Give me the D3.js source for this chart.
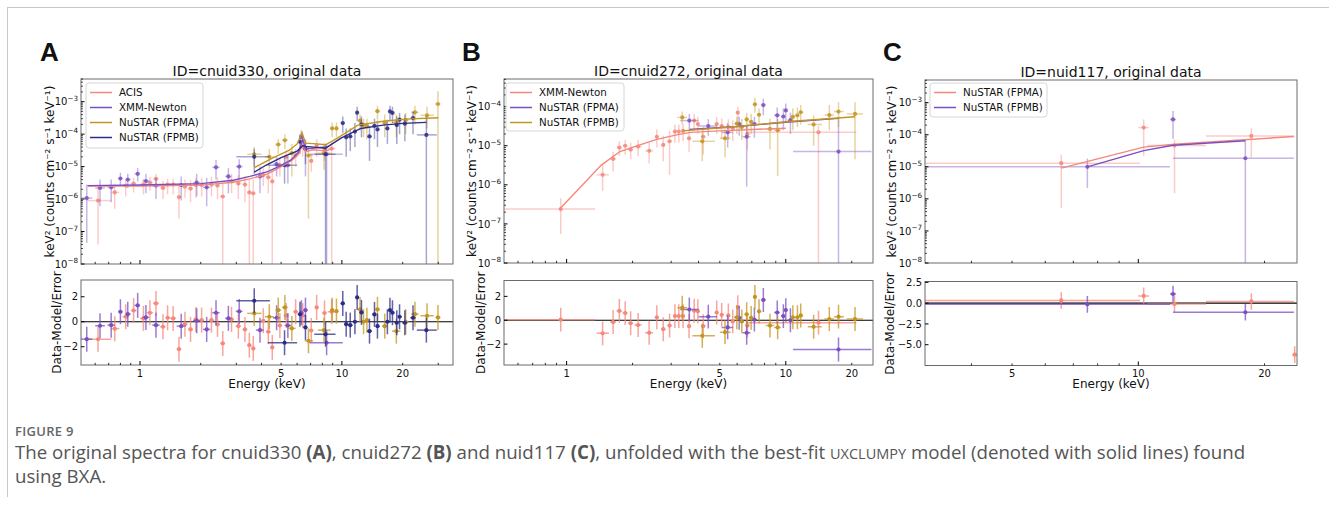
<!DOCTYPE html>
<html><head><meta charset="utf-8">
<script src="https://cdn.jsdelivr.net/npm/d3@7"></script>
<style>body{margin:0;background:#fff}svg{display:block}</style>
</head><body>
<svg id="c" width="1329" height="506"></svg>
<script>
// ---------- DATA ----------
// point rows: [E, Elo, Ehi, flux, fluxLo, fluxHi, residual]
const A_ACIS = [
 [0.62,0.55,0.72,9e-7,4e-8,2.2e-6,-1.4],[0.75,0.72,0.79,1.6e-6,5e-7,3e-6,-0.55],
 [0.85,0.82,0.88,2.6e-6,1.2e-6,4e-6,0.4],[0.93,0.9,0.96,3e-6,1.6e-6,4.5e-6,0.9],
 [1.04,1.0,1.08,2.8e-6,1.4e-6,4.2e-6,0.27],[1.12,1.08,1.16,3.2e-6,1.8e-6,4.8e-6,0.72],
 [1.2,1.16,1.24,4.2e-6,2.4e-6,6e-6,1.47],[1.3,1.26,1.34,2.2e-6,1e-6,3.6e-6,-0.4],
 [1.37,1.34,1.41,2.8e-6,1.4e-6,4.2e-6,0.32],[1.46,1.41,1.51,2.8e-6,1.4e-6,4.2e-6,0.27],
 [1.56,1.52,1.6,1.15e-6,2.5e-7,2.6e-6,-2.19],[1.67,1.62,1.72,2.4e-6,1.1e-6,4e-6,-0.19],
 [1.78,1.73,1.83,2.1e-6,8e-7,3.8e-6,-0.61],[1.89,1.84,1.95,2.7e-6,1.1e-6,4.4e-6,0.19],
 [2.02,1.96,2.08,2.7e-6,1.2e-6,4.5e-6,0.13],[2.26,2.19,2.33,2.8e-6,1.2e-6,4.8e-6,0.13],
 [2.42,2.35,2.49,2.6e-6,1e-6,4.6e-6,-0.21],[2.57,2.5,2.64,1.2e-6,1e-9,3e-6,-1.73],
 [2.84,2.76,2.92,3.5e-6,1.5e-6,6e-6,0.19],[3.07,2.98,3.16,3e-6,1e-6,5.5e-6,-0.35],
 [3.31,3.22,3.4,2.8e-6,8e-7,5e-6,-0.61],[3.48,3.4,3.56,1.6e-6,1e-9,4e-6,-1.87],
 [3.64,3.56,3.72,1.5e-6,1e-9,4e-6,-2.13],[4.08,3.98,4.18,5.5e-6,2.5e-6,9e-6,0.08],
 [4.32,4.2,4.44,4.7e-6,1.5e-6,8e-6,-0.8],[4.52,4.44,4.62,3.5e-6,1e-9,7e-6,-2.05],
 [4.93,4.8,5.06,1.1e-5,5e-6,1.8e-5,-0.3],[5.3,5.15,5.45,2e-5,9e-6,3.2e-5,0.5],
 [5.9,5.75,6.05,2.2e-5,1e-5,3.5e-5,0.8],[6.4,6.28,6.52,4.2e-5,2e-5,7e-5,0.5],
 [7.05,6.9,7.2,1.5e-5,7e-6,2.5e-5,-0.7],[7.5,7.35,7.65,4.5e-5,2e-5,7e-5,1.15],
 [8.2,8.0,8.4,3.5e-5,1.5e-5,5.5e-5,0.7],[8.9,8.5,9.3,3.6e-5,1e-9,6e-5,0.8]
];
const A_XMM = [
 [0.545,0.51,0.58,1.07e-6,4.5e-8,2.8e-6,-1.39],[0.634,0.6,0.67,2.2e-6,6e-7,4e-6,-0.32],
 [0.72,0.69,0.75,2.3e-6,8e-7,4e-6,-0.27],[0.8,0.78,0.82,4.3e-6,2.5e-6,6.5e-6,0.8],
 [0.87,0.85,0.9,4e-6,2.2e-6,6e-6,0.61],[0.974,0.94,1.0,6e-6,3.5e-6,9e-6,1.31],
 [1.07,1.03,1.11,3.6e-6,1.5e-6,6e-6,0.35],[1.2,1.15,1.25,2.6e-6,1e-6,4.5e-6,-0.27],
 [1.6,1.52,1.68,2.7e-6,9e-7,5e-6,-0.35],[1.91,1.83,1.99,3.2e-6,1.2e-6,6e-6,0.08],
 [2.14,2.05,2.23,2.3e-6,6e-7,4.5e-6,-0.61],[2.38,2.28,2.48,9.5e-6,4e-6,1.6e-5,0.72],
 [2.74,2.64,2.84,5e-6,1.5e-6,9e-6,0.27],[3.1,2.98,3.22,1e-5,4e-6,1.7e-5,0.83],
 [3.93,3.75,4.1,5e-6,1.5e-6,1e-5,-0.67],[4.75,4.55,4.95,1.2e-5,5e-6,2e-5,0.32],
 [5.4,5.2,5.6,1.1e-5,3e-6,2e-5,-0.3],[6.3,6.15,6.45,8.2e-5,4e-5,1.3e-4,0.72],
 [6.6,6.45,6.75,3.6e-5,5e-6,7e-5,0.93],[8.4,6.9,10.1,2.4e-5,1e-9,5e-5,-1.68]
];
const A_FPMA = [
 [3.68,3.4,4.0,2.4e-5,1e-5,4e-5,0.67],[4.37,4.15,4.6,2e-5,8e-6,3.5e-5,0.4],
 [4.84,4.68,5.0,4.8e-5,2.5e-5,7e-5,0.93],[5.22,5.05,5.4,6.5e-5,3.5e-5,1e-4,1.15],
 [5.65,5.4,5.9,2.6e-5,5e-6,5e-5,-0.53],[6.83,6.55,7.2,2.2e-5,2.5e-7,4e-5,-1.52],
 [8.15,7.6,8.8,2.6e-5,8e-6,4.5e-5,-0.67],[8.95,8.75,9.15,1.5e-4,8e-5,2.3e-4,0.93],
 [9.4,9.2,9.6,1.5e-4,8e-5,2.3e-4,0.85],[12.3,12.0,12.6,2.6e-4,1.3e-4,4e-4,0.99],
 [12.8,12.6,13.05,1.9e-4,8e-5,3e-4,0.0],[13.3,13.05,13.6,1.8e-4,7e-5,3e-4,0.13],
 [15.0,14.6,15.4,5.1e-4,2.8e-4,7.5e-4,0.99],[16.3,15.8,16.8,2.2e-4,8e-5,4e-4,-0.35],
 [18.6,17.7,19.5,2.3e-4,8e-5,4e-4,-0.75],[20.7,20.0,21.4,2.7e-4,1e-4,4.5e-4,0.0],
 [23.0,22.0,24.0,4.7e-4,2e-4,7.5e-4,0.61],[26.4,24.5,28.5,3.8e-4,1.5e-4,7e-4,0.48],
 [29.9,29.0,30.8,8.5e-4,1e-9,2.1e-3,0.35]
];
const A_FPMB = [
 [3.68,3.0,4.4,2e-5,6e-6,3.5e-5,1.68],[5.2,4.3,6.0,1.1e-5,3e-6,2e-5,-1.68],
 [6.2,6.05,6.35,5.8e-5,2.5e-5,1e-4,0.6],[6.6,6.45,6.75,3.5e-5,1.2e-5,6e-5,-0.45],
 [8.3,7.3,9.3,2.4e-5,1e-9,5e-5,-1.0],[10.1,9.85,10.35,2.2e-4,1.1e-4,3.5e-4,1.47],
 [10.5,10.3,10.75,8e-5,2e-5,1.5e-4,-0.19],[11.0,10.75,11.3,8.5e-5,3e-5,1.5e-4,-0.27],
 [11.6,11.35,11.8,1.2e-4,4e-5,2.2e-4,0.0],[11.9,11.75,12.1,4.6e-4,2.5e-4,7e-4,1.95],
 [12.5,12.2,12.8,2e-4,8e-5,3.5e-4,0.75],[13.7,13.3,14.1,8.5e-5,1.5e-5,1.8e-4,-0.75],
 [14.5,14.1,14.8,1.8e-4,7e-5,3e-4,0.59],[15.0,14.8,15.4,1.4e-4,4e-5,2.6e-4,-0.35],
 [16.8,16.3,17.1,1.5e-4,5e-5,2.8e-4,0.0],[17.3,17.1,17.55,5e-4,2.5e-4,7.5e-4,0.93],
 [17.8,17.55,18.2,4.5e-4,2.2e-4,7e-4,0.72],[18.7,18.2,19.0,1.9e-4,5e-5,3.5e-4,-0.08],
 [19.3,19.0,19.8,2.8e-4,1e-4,4.5e-4,0.4],[20.5,19.9,21.1,2.1e-4,6e-5,4e-4,-0.08],
 [22.5,21.8,23.2,3.1e-4,1e-4,5e-4,0.32],[26.2,23.5,29.5,9.5e-5,1e-9,3.5e-4,-0.67]
];
// model rows: [E, flux]
const A_ACIS_MODEL = [[0.55,2.5e-6],[1,2.5e-6],[2,2.7e-6],[2.9,3.3e-6],[3.5,4.2e-6],[4.3,6e-6],[5,1e-5],[5.6,1.5e-5],[6.1,2.4e-5],[6.4,5e-5],[6.6,2.9e-5],[7.2,3.3e-5],[8,3.1e-5],[8.3,3e-5],[9,3.6e-5]];
const A_XMM_MODEL = [[0.55,2.6e-6],[1,2.7e-6],[2,3e-6],[2.9,3.8e-6],[3.5,5e-6],[4.3,7e-6],[5,1.1e-5],[5.6,1.6e-5],[6.1,2.8e-5],[6.4,7e-5],[6.6,3.5e-5],[7.5,3.8e-5],[8.4,4e-5]];
const A_FPMA_MODEL = [[3.68,9.3e-6],[4.5,1.8e-5],[5.5,3.2e-5],[6,5e-5],[6.35,1.1e-4],[6.6,5.3e-5],[7.5,5e-5],[8.3,4.7e-5],[9.5,7.5e-5],[12,1.9e-4],[16,2.5e-4],[20.5,2.9e-4],[30,3.2e-4]];
const A_FPMB_MODEL = [[3.68,6.8e-6],[4.2,1.1e-5],[5,1.9e-5],[6,3e-5],[6.4,4.4e-5],[6.6,4.2e-5],[7.5,3.9e-5],[8.3,3.7e-5],[9.9,7.5e-5],[12.4,1.5e-4],[16,1.9e-4],[20,2.15e-4],[26.2,2.3e-4]];

const B_XMM = [
 [0.94,0.52,1.35,2.4e-7,5.5e-8,4.5e-7,0.05],[1.46,1.37,1.56,1.8e-6,7e-7,3.2e-6,-1.1],
 [1.63,1.58,1.68,4.6e-6,2.2e-6,7e-6,-0.15],[1.74,1.69,1.79,9e-6,5.5e-6,1.3e-5,0.78],
 [1.85,1.8,1.9,1e-5,6e-6,1.4e-5,0.6],[1.96,1.91,2.01,8e-6,4.5e-6,1.2e-5,-0.25],
 [2.12,2.04,2.2,9.5e-6,5.5e-6,1.4e-5,-0.4],[2.38,2.28,2.48,7.4e-6,3.5e-6,1.2e-5,-1.05],
 [2.58,2.53,2.63,1.7e-5,9e-6,2.6e-5,0.25],[2.76,2.7,2.82,1.05e-5,4e-6,1.8e-5,-0.75],
 [2.95,2.89,3.01,1.3e-5,1.8e-6,2.4e-5,-0.45],[3.12,3.07,3.17,2.3e-5,1.2e-5,3.5e-5,0.35],
 [3.25,3.2,3.3,2.3e-5,1.2e-5,3.5e-5,0.35],[3.4,3.34,3.46,2.4e-5,1.3e-5,3.6e-5,0.35],
 [3.62,3.55,3.69,1.55e-5,7e-6,2.5e-5,-0.5],[3.82,3.76,3.88,4.4e-5,2.5e-5,6.5e-5,0.8],
 [3.97,3.91,4.03,3.6e-5,2e-5,5.5e-5,0.75],[4.2,4.1,4.3,1.7e-5,6e-6,3e-5,-0.5],
 [4.84,4.74,4.94,3.6e-5,2e-5,5.5e-5,0.65],[5.1,5.0,5.2,3.2e-5,1.5e-5,5e-5,0.45],
 [5.47,5.37,5.57,3e-5,1.4e-5,4.8e-5,0.4],[5.73,5.63,5.83,2.8e-5,1.3e-5,4.5e-5,-0.1],
 [6.04,5.94,6.14,7e-5,4e-5,1e-4,1.1],[6.68,6.53,6.83,2e-5,8e-6,3.5e-5,-0.45],
 [14.1,6.6,21.0,2.2e-5,1e-9,3.2e-5,-0.2]
];
const B_FPMA = [
 [3.63,3.3,4.0,4.4e-5,2.6e-5,6.5e-5,0.9],[4.43,4.0,4.85,3.2e-5,1.8e-5,4.8e-5,0.3],
 [5.43,5.1,5.75,2.2e-5,9e-6,3.8e-5,-0.6],[6.13,5.95,6.3,3.6e-5,1.8e-5,5.5e-5,0.2],
 [6.63,6.35,6.9,1.7e-5,9e-7,3.2e-5,-1.05],[7.19,7.0,7.4,3.6e-5,1.6e-5,5.5e-5,0.05],
 [7.9,7.7,8.1,1.1e-4,6e-5,1.6e-4,1.7],[9.14,8.85,9.4,6e-5,2.8e-5,9.5e-5,0.65],
 [9.75,9.5,9.9,5.6e-5,2.5e-5,9e-5,0.35],[10.0,9.9,10.2,8e-5,4e-5,1.2e-4,0.85],
 [10.5,10.2,10.8,4.5e-5,2e-5,7e-5,0.0],[17.4,10.8,24.6,7.1e-6,1e-9,5.5e-5,-2.45]
];
const B_FPMB = [
 [3.37,3.2,3.55,5.3e-5,3.5e-5,7.5e-5,1.05],[4.16,3.75,4.75,1.3e-5,4e-6,2.5e-5,-1.3],
 [5.28,5.0,5.6,1.55e-5,5e-6,2.8e-5,-1.0],[5.98,5.8,6.15,3.7e-5,2e-5,5.5e-5,0.25],
 [6.3,6.15,6.45,3e-5,1.4e-5,4.8e-5,-0.1],[6.63,6.5,6.78,4.7e-5,2.5e-5,7e-5,0.5],
 [6.95,6.8,7.1,4.1e-5,2e-5,6.5e-5,0.2],[7.23,7.1,7.38,1.15e-4,7e-5,1.7e-4,1.95],
 [7.55,7.4,7.7,6.2e-5,3.5e-5,9e-5,0.75],[8.47,8.1,8.85,2.7e-5,8e-6,5e-5,-0.45],
 [9.18,8.85,9.5,2.5e-5,1.7e-6,4.8e-5,-0.6],[10.77,10.5,11.05,5.5e-5,2.5e-5,9e-5,0.25],
 [11.3,11.05,11.5,6e-5,3e-5,9.5e-5,0.25],[11.7,11.5,12.0,7.2e-5,3.5e-5,1.1e-4,0.4],
 [13.4,12.6,14.6,3.5e-5,1e-5,6e-5,-0.55],[15.8,15.0,16.6,6.1e-5,2.5e-5,1.1e-4,0.1],
 [17.4,16.6,18.4,7.5e-5,3e-5,1.3e-4,0.3],[20.7,19.0,22.5,6.5e-5,4.5e-6,1.3e-4,0.1]
];
const B_XMM_MODEL = [[0.93,2.4e-7],[1.44,3.2e-6],[1.75,7.1e-6],[2.16,1.05e-5],[2.58,1.46e-5],[3.18,1.9e-5],[3.66,2.2e-5],[5,2.4e-5],[7,2.6e-5],[10,2.8e-5]];
const B_FPMA_MODEL = [[3.63,2.6e-5],[6,3.1e-5],[10,4e-5],[17.4,5e-5]];
const B_FPMB_MODEL = [[3.37,2.4e-5],[6,3.1e-5],[10,4.1e-5],[20.7,5.5e-5]];

const C_FPMA = [
 [6.55,3.1,10.1,1.3e-5,5.3e-7,2.4e-5,0.32],[10.3,10.0,10.6,1.67e-4,2.2e-5,3e-4,0.87],
 [12.2,10.5,14.5,4.6e-5,1.5e-6,7e-5,-0.1],[18.6,14.5,23.5,9.2e-5,2e-5,1.6e-4,0.2],
 [23.6,23.3,23.9,null,null,null,-6.2]
];
const C_FPMB = [
 [7.56,3.1,11.9,1e-5,2.2e-6,1.8e-5,-0.15],[12.1,11.9,12.3,3e-4,7.5e-5,5.5e-4,1.1],
 [18.0,12.1,23.5,1.85e-5,1e-9,6.5e-5,-1.1]
];
const C_FPMA_MODEL = [[6.55,9.1e-6],[10.3,4.1e-5],[12.2,5.1e-5],[23.5,8.8e-5]];
const C_FPMB_MODEL = [[7.56,1e-5],[10.3,3.2e-5],[12.1,4.7e-5],[18.0,6.5e-5]];

const TITLES = ['ID=cnuid330, original data','ID=cnuid272, original data','ID=nuid117, original data'];
const LETTERS = ['A','B','C'];
const X_LABELS_AB = [1,5,10,20];
const X_LABELS_C = [5,10,20];
const R_TICKS_AB = [-2,0,2];
const R_TICKS_C = [-5,-2.5,0,2.5];

// ---------- STYLE / LAYOUT ----------
const COL = {salmon:'#f5877b', purple:'#7a4fc2', gold:'#c3951f', navy:'#2c2c86'};
const FONT = 'DejaVu Sans';
const svg = d3.select('#c');
const defs = svg.append('defs');

const panels = [
 {i:0, letterX:40, x0:81, x1:453, ty0:79, ty1:264, by0:280, by1:365,
  xDom:[0.5104,35.5], yDom:[1e-8,5.0e-3], rDom:[-3.46,3.34], yExp:[-8,-3],
  xLabels:X_LABELS_AB, rTicks:R_TICKS_AB, rFmt:d=>d3.format('d')(d).replace('-','\u2212'),
  ylabX:54, rlabX:61, leg:{x:86,y:83,w:117,h:65},
  series:[
   {name:'ACIS',color:COL.salmon,data:A_ACIS,model:A_ACIS_MODEL},
   {name:'XMM-Newton',color:COL.purple,data:A_XMM,model:A_XMM_MODEL},
   {name:'NuSTAR (FPMA)',color:COL.gold,data:A_FPMA,model:A_FPMA_MODEL},
   {name:'NuSTAR (FPMB)',color:COL.navy,data:A_FPMB,model:A_FPMB_MODEL}]},
 {i:1, letterX:462, x0:504, x1:873, ty0:79, ty1:263, by0:280.5, by1:365,
  xDom:[0.518,25.0], yDom:[1e-8,5.1e-4], rDom:[-3.75,3.33], yExp:[-8,-4],
  xLabels:X_LABELS_AB, rTicks:R_TICKS_AB, rFmt:d=>d3.format('d')(d).replace('-','\u2212'),
  ylabX:476, rlabX:485, leg:{x:506,y:83,w:118,h:48},
  series:[
   {name:'XMM-Newton',color:COL.salmon,data:B_XMM,model:B_XMM_MODEL},
   {name:'NuSTAR (FPMA)',color:COL.purple,data:B_FPMA,model:B_FPMA_MODEL},
   {name:'NuSTAR (FPMB)',color:COL.gold,data:B_FPMB,model:B_FPMB_MODEL}]},
 {i:2, letterX:883, x0:925, x1:1297, ty0:80, ty1:263, by0:281.5, by1:365.5,
  xDom:[3.10,23.9], yDom:[1e-8,5.1e-3], rDom:[-7.5,2.6], yExp:[-8,-3],
  xLabels:X_LABELS_C, rTicks:R_TICKS_C, rFmt:d=>d3.format('.1f')(d).replace('-','\u2212'),
  ylabX:896, rlabX:894, leg:{x:930,y:83,w:117,h:34},
  series:[
   {name:'NuSTAR (FPMA)',color:COL.salmon,data:C_FPMA,model:C_FPMA_MODEL},
   {name:'NuSTAR (FPMB)',color:COL.purple,data:C_FPMB,model:C_FPMB_MODEL}]}
];

function logTicks(dom){
  const out=[];
  for(let e=Math.floor(Math.log10(dom[0]));e<=Math.ceil(Math.log10(dom[1]));e++){
    for(let m=1;m<=9;m++){const v=m*Math.pow(10,e); if(v>=dom[0]*0.999&&v<=dom[1]*1.001) out.push({v,major:m===1});}
  }
  return out;
}

function drawPanel(p){
  const g = svg.append('g');
  const x = d3.scaleLog().domain(p.xDom).range([p.x0,p.x1]);
  const y = d3.scaleLog().domain(p.yDom).range([p.ty1,p.ty0]);
  const r = d3.scaleLinear().domain(p.rDom).range([p.by1,p.by0]);
  const ct='ct'+p.i, cb='cb'+p.i;
  defs.append('clipPath').attr('id',ct).append('rect').attr('x',p.x0).attr('y',p.ty0).attr('width',p.x1-p.x0).attr('height',p.ty1-p.ty0);
  defs.append('clipPath').attr('id',cb).append('rect').attr('x',p.x0).attr('y',p.by0).attr('width',p.x1-p.x0).attr('height',p.by1-p.by0);

  // ---- top spectrum ----
  const top = g.append('g').attr('clip-path',`url(#${ct})`);
  p.series.forEach(s=>{
    const pts = s.data.filter(d=>d[3]!=null);
    const sg = top.append('g');
    sg.selectAll('line.v').data(pts).join('line').attr('class','v')
      .attr('x1',d=>x(d[0])).attr('x2',d=>x(d[0]))
      .attr('y1',d=>y(Math.max(d[4],p.yDom[0]/10))).attr('y2',d=>y(d[5]))
      .attr('stroke',s.color).attr('stroke-opacity',0.42).attr('stroke-width',1.5);
    sg.selectAll('line.h').data(pts).join('line').attr('class','h')
      .attr('x1',d=>x(d[1])).attr('x2',d=>x(d[2]))
      .attr('y1',d=>y(d[3])).attr('y2',d=>y(d[3]))
      .attr('stroke',s.color).attr('stroke-opacity',0.42).attr('stroke-width',1.5);
    sg.selectAll('circle').data(pts).join('circle')
      .attr('cx',d=>x(d[0])).attr('cy',d=>y(d[3])).attr('r',2.1)
      .attr('fill',s.color).attr('fill-opacity',0.85);
  });
  const line = d3.line().x(d=>x(d[0])).y(d=>y(d[1]));
  p.series.forEach(s=>{
    top.append('path').datum(s.model).attr('d',line).attr('fill','none')
      .attr('stroke',s.color).attr('stroke-width',1.4);
  });

  // ---- residuals ----
  const bot = g.append('g').attr('clip-path',`url(#${cb})`);
  bot.append('line').attr('x1',p.x0).attr('x2',p.x1).attr('y1',r(0)).attr('y2',r(0))
    .attr('stroke','#000').attr('stroke-width',1.2);
  p.series.forEach(s=>{
    const sg = bot.append('g');
    sg.selectAll('line.v').data(s.data).join('line').attr('class','v')
      .attr('x1',d=>x(d[0])).attr('x2',d=>x(d[0]))
      .attr('y1',d=>r(d[6]-1)).attr('y2',d=>r(d[6]+1))
      .attr('stroke',s.color).attr('stroke-opacity',0.75).attr('stroke-width',1.5);
    sg.selectAll('line.h').data(s.data).join('line').attr('class','h')
      .attr('x1',d=>x(d[1])).attr('x2',d=>x(d[2]))
      .attr('y1',d=>r(d[6])).attr('y2',d=>r(d[6]))
      .attr('stroke',s.color).attr('stroke-opacity',0.75).attr('stroke-width',1.5);
    sg.selectAll('circle').data(s.data).join('circle')
      .attr('cx',d=>x(d[0])).attr('cy',d=>r(d[6])).attr('r',2.1).attr('fill',s.color);
  });

  // ---- frames ----
  [[p.ty0,p.ty1],[p.by0,p.by1]].forEach(([a,b])=>{
    g.append('rect').attr('x',p.x0).attr('y',a).attr('width',p.x1-p.x0).attr('height',b-a)
      .attr('fill','none').attr('stroke','#6a6a6a').attr('stroke-width',1);
  });

  // ---- x ticks (inward, both panels) ----
  const xt = logTicks(p.xDom);
  [p.ty1,p.by1].forEach(yb=>{
    g.selectAll(null).data(xt).join('line')
      .attr('x1',d=>x(d.v)).attr('x2',d=>x(d.v))
      .attr('y1',yb).attr('y2',d=>yb-(d.major?4:2.2))
      .attr('stroke','#000').attr('stroke-width',d=>d.major?1:0.8);
  });
  g.selectAll(null).data(xt.filter(d=>p.xLabels.some(l=>Math.abs(l-d.v)<1e-6))).join('text')
    .attr('x',d=>x(d.v)).attr('y',p.by1+11.5).attr('text-anchor','middle')
    .attr('font-family',FONT).attr('font-size',10).attr('fill','#111')
    .text(d=>d3.format('d')(d.v));

  // ---- y ticks top (log) ----
  const yt = logTicks(p.yDom);
  g.selectAll(null).data(yt).join('line')
    .attr('x1',p.x0).attr('x2',d=>p.x0+(d.major?3.5:2))
    .attr('y1',d=>y(d.v)).attr('y2',d=>y(d.v))
    .attr('stroke','#000').attr('stroke-width',d=>d.major?1:0.7);
  const exps = d3.range(p.yExp[0],p.yExp[1]+1);
  const yl = g.selectAll(null).data(exps).join('text')
    .attr('x',p.x0-3).attr('y',e=>y(Math.pow(10,e))+3.6).attr('text-anchor','end')
    .attr('font-family',FONT).attr('font-size',10).attr('fill','#111');
  yl.append('tspan').text('10');
  yl.append('tspan').attr('dy',-4.5).attr('font-size',7.2).text(e=>'\u2212'+(-e));

  // ---- y ticks residual ----
  g.selectAll(null).data(p.rTicks).join('line')
    .attr('x1',p.x0).attr('x2',p.x0+3.5).attr('y1',d=>r(d)).attr('y2',d=>r(d))
    .attr('stroke','#000').attr('stroke-width',1);
  g.selectAll(null).data(p.rTicks).join('text')
    .attr('x',p.x0-3).attr('y',d=>r(d)+3.6).attr('text-anchor','end')
    .attr('font-family',FONT).attr('font-size',10).attr('fill','#111').text(p.rFmt);

  // ---- labels ----
  const tcy=(p.ty0+p.ty1)/2, bcy=(p.by0+p.by1)/2, cx=(p.x0+p.x1)/2;
  g.append('text').attr('transform',`translate(${p.ylabX},${tcy}) rotate(-90)`)
    .attr('text-anchor','middle').attr('font-family',FONT).attr('font-size',12).attr('fill','#111')
    .text('keV\u00B2 (counts cm\u207B\u00B2 s\u207B\u00B9 keV\u207B\u00B9)');
  g.append('text').attr('transform',`translate(${p.rlabX},${bcy}) rotate(-90)`)
    .attr('text-anchor','middle').attr('font-family',FONT).attr('font-size',12).attr('fill','#111')
    .text('Data-Model/Error');
  g.append('text').attr('x',cx).attr('y',p.by1+22.5).attr('text-anchor','middle')
    .attr('font-family',FONT).attr('font-size',12).attr('fill','#111').text('Energy (keV)');
  g.append('text').attr('x',cx).attr('y',p.ty0-3.5).attr('text-anchor','middle')
    .attr('font-family',FONT).attr('font-size',14).attr('fill','#111').text(TITLES[p.i]);
  g.append('text').attr('x',p.letterX).attr('y',61).attr('font-family','Liberation Sans, Arial')
    .attr('font-weight','bold').attr('font-size',26).attr('fill','#111').text(LETTERS[p.i]);

  // ---- legend ----
  const L = p.leg;
  const lg = g.append('g');
  lg.append('rect').attr('x',L.x).attr('y',L.y).attr('width',L.w).attr('height',L.h).attr('rx',3)
    .attr('fill','#fff').attr('fill-opacity',0.85).attr('stroke','#d6d6d6');
  const rows = lg.selectAll(null).data(p.series).join('g')
    .attr('transform',(d,k)=>`translate(${L.x},${L.y+9.5+k*15})`);
  rows.append('line').attr('x1',4).attr('x2',26).attr('stroke',d=>d.color).attr('stroke-width',1.5);
  rows.append('text').attr('x',33).attr('y',3.7).attr('font-family',FONT).attr('font-size',10.3)
    .attr('fill','#111').text(d=>d.name);
}
panels.forEach(drawPanel);

// ---------- frame + caption ----------
svg.append('line').attr('x1',7).attr('x2',1329).attr('y1',7.5).attr('y2',7.5).attr('stroke','#c8c8c8');
svg.append('line').attr('x1',7.5).attr('x2',7.5).attr('y1',7).attr('y2',497).attr('stroke','#c8c8c8');
const cap = svg.append('g').attr('font-family','Open Sans').attr('fill','#555');
cap.append('text').attr('x',15).attr('y',436).attr('font-size',13).attr('font-weight',600)
  .attr('letter-spacing',0.3).attr('fill','#666').text('FIGURE 9');
const l1 = cap.append('text').attr('x',15).attr('y',458.5).attr('font-size',18.7);
[['The original spectra for cnuid330 ',0],['(A)',1],[', cnuid272 ',0],['(B)',1],[' and nuid117 ',0],['(C)',1],
 [', unfolded with the best-fit ',0],['UXCLUMPY',2],[' model (denoted with solid lines) found',0]]
 .forEach(([t,k])=>{const s=l1.append('tspan').text(t); if(k===1) s.attr('font-weight','bold'); if(k===2) s.attr('font-size',14.5);});
cap.append('text').attr('x',15).attr('y',482.5).attr('font-size',18.7).text('using BXA.');
</script>
</body></html>
